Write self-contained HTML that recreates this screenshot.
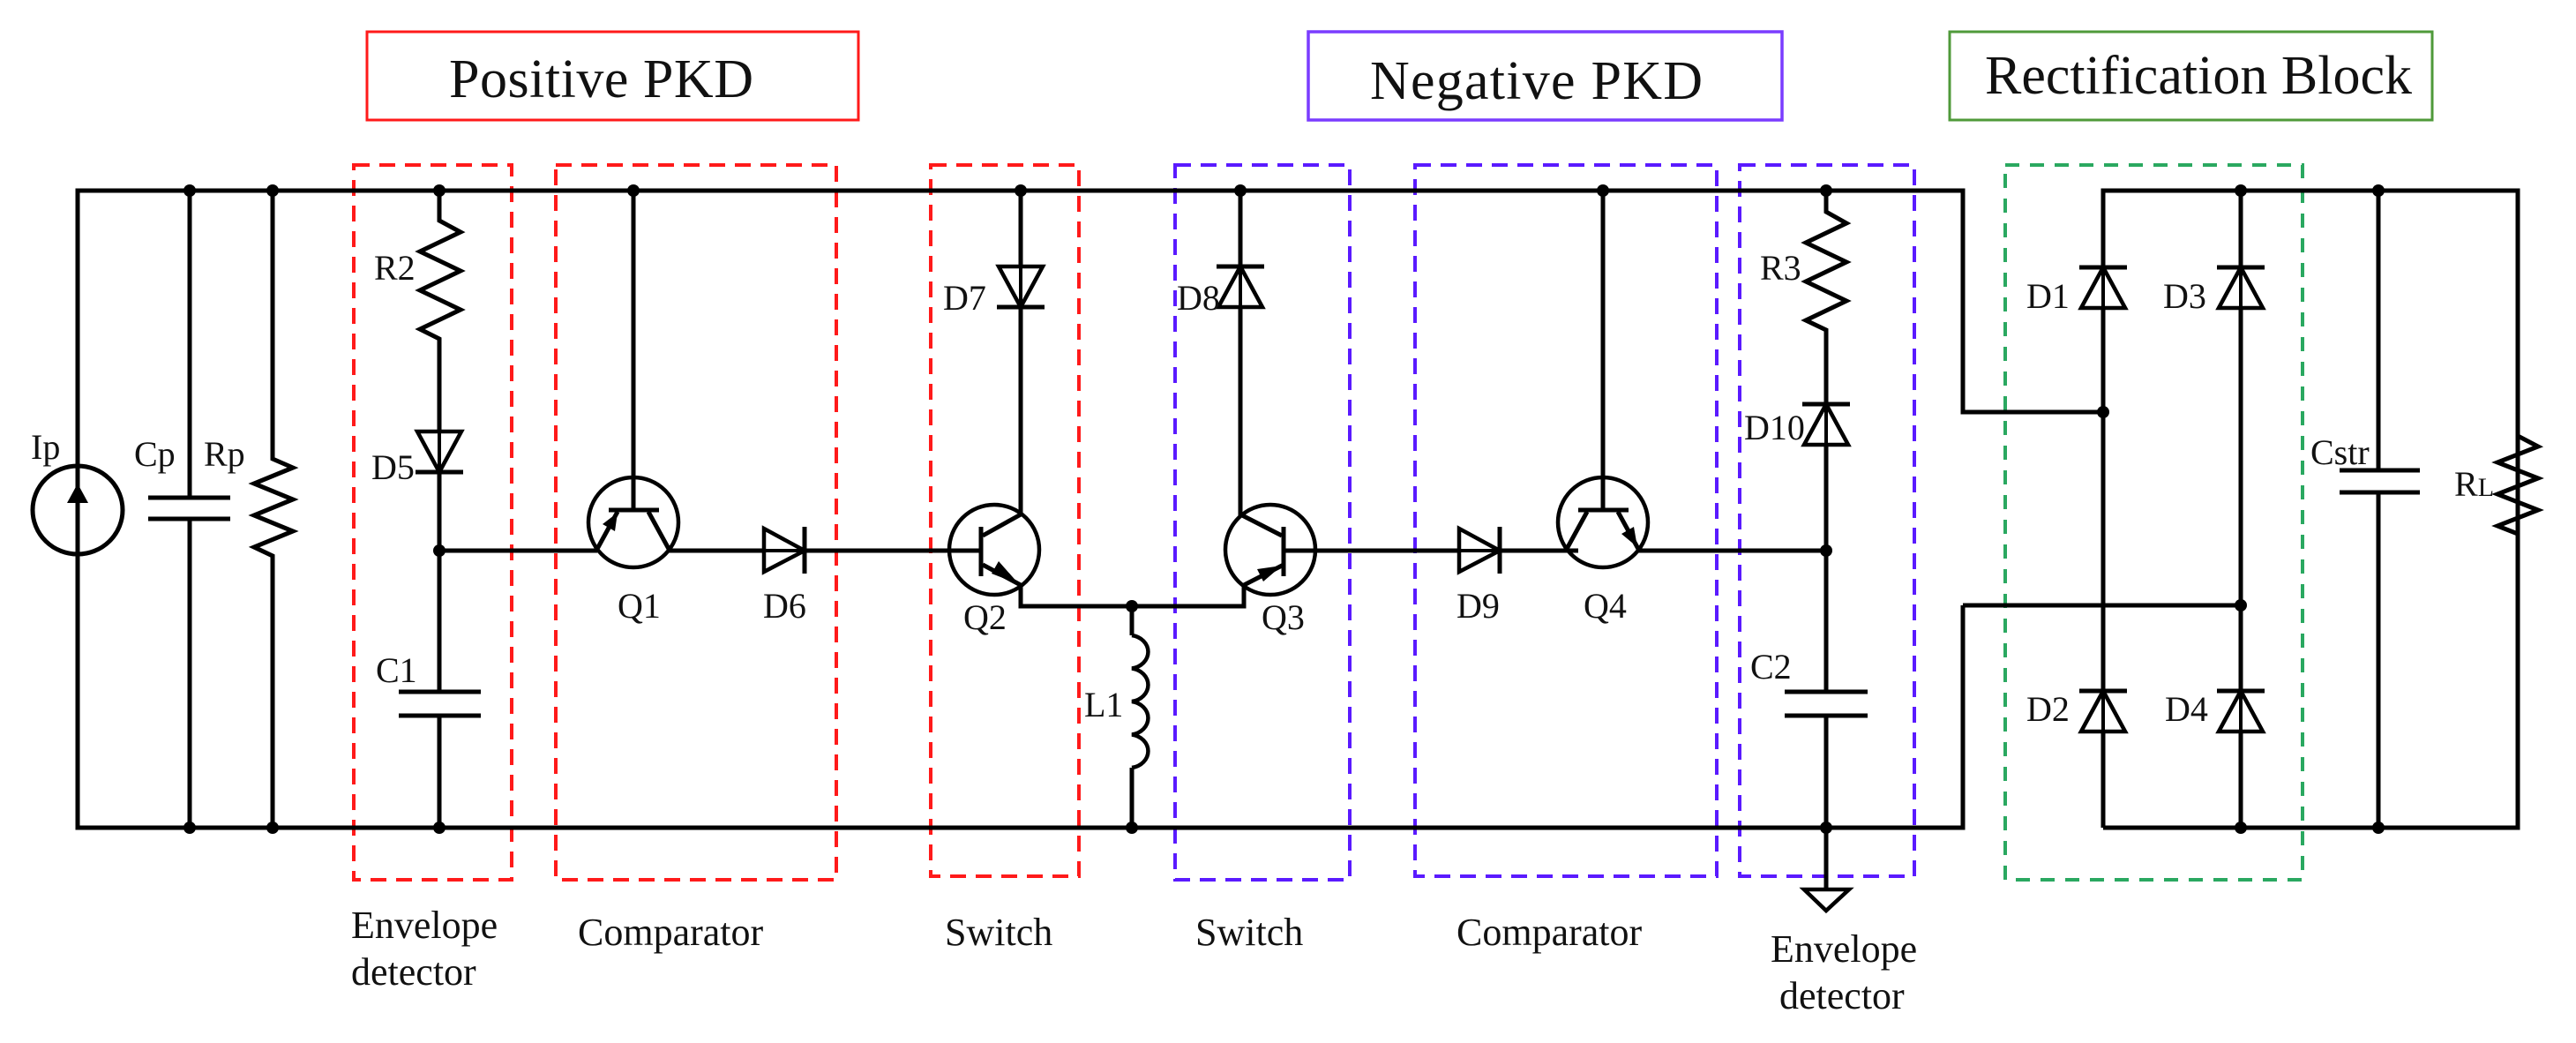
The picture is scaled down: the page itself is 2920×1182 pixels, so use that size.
<!DOCTYPE html>
<html><head><meta charset="utf-8"><style>html,body{margin:0;padding:0;background:#fff}svg{display:block}</style></head>
<body>
<svg width="2920" height="1182" viewBox="0 0 2920 1182" xmlns="http://www.w3.org/2000/svg" font-family="'Liberation Serif', serif" fill="none">
<!-- title boxes -->
<rect x="416" y="36" width="557" height="100" stroke="#ff1a1a" stroke-width="3"/>
<rect x="1483" y="36" width="537" height="100" stroke="#7a3cff" stroke-width="3.5"/>
<rect x="2210" y="36" width="547" height="100" stroke="#4f9a3a" stroke-width="3"/>
<g fill="#111" stroke="none" font-size="62">
<text x="509" y="110" textLength="345">Positive PKD</text>
<text x="1553" y="112" textLength="377">Negative PKD</text>
<text x="2250" y="106" textLength="484">Rectification Block</text>
</g>
<!-- dashed boxes -->
<g stroke-width="4" stroke-dasharray="18 11">
<rect x="401" y="187" width="179" height="810" stroke="#ff1a1a"/>
<rect x="630" y="187" width="318" height="810" stroke="#ff1a1a"/>
<rect x="1055" y="187" width="168" height="806" stroke="#ff1a1a"/>
<rect x="1332" y="187" width="198" height="810" stroke="#5a1aff"/>
<rect x="1604" y="187" width="342" height="806" stroke="#5a1aff"/>
<rect x="1972" y="187" width="198" height="806" stroke="#5a1aff"/>
<rect x="2273" y="187" width="337" height="810" stroke="#2aa860" stroke-dasharray="16 12"/>
</g>
<!-- wires -->
<g stroke="#000" stroke-width="5" stroke-linejoin="miter">
<polyline points="2225,686 2225,938 88,938 88,216 2225,216 2225,467 2384,467"/>
<line x1="2225" y1="686" x2="2540" y2="686"/>
<polyline points="2384,938 2384,216 2854,216 2854,938 2384,938"/>
<line x1="2540" y1="216" x2="2540" y2="938"/>
<line x1="2696" y1="216" x2="2696" y2="533"/>
<line x1="2696" y1="558" x2="2696" y2="938"/>
<line x1="215" y1="216" x2="215" y2="564"/><line x1="215" y1="588" x2="215" y2="938"/>
<line x1="168" y1="564" x2="261" y2="564"/><line x1="168" y1="588" x2="261" y2="588"/>
<polyline points="309,216 309,520 332,530 288,548 332,566 288,584 332,602 288,620 309,630 309,938"/>
<polyline points="498,216 498,250 522,263 476,285 522,307 476,329 522,351 476,373 498,384 498,784"/>
<line x1="498" y1="811" x2="498" y2="938"/>
<line x1="452" y1="784" x2="545" y2="784"/><line x1="452" y1="811" x2="545" y2="811"/>
<line x1="498" y1="624" x2="677" y2="624"/>
<line x1="718" y1="216" x2="718" y2="578"/>
<line x1="690" y1="578" x2="747" y2="578"/>
<line x1="700" y1="580" x2="677" y2="622"/>
<line x1="735" y1="580" x2="758" y2="622"/>
<line x1="758" y1="624" x2="1112" y2="624"/>
<line x1="1112" y1="597" x2="1112" y2="653"/>
<polyline points="1157,216 1157,583 1114,607"/>
<polyline points="1114,640 1157,663 1157,687 1410,687 1410,663 1455,640"/>
<line x1="1283" y1="687" x2="1283" y2="720"/>
<line x1="1283" y1="870" x2="1283" y2="938"/>
<line x1="1455" y1="597" x2="1455" y2="653"/>
<polyline points="1406,216 1406,583 1453,607"/>
<line x1="1455" y1="624" x2="1789" y2="624"/>
<line x1="1817" y1="216" x2="1817" y2="578"/>
<line x1="1789" y1="578" x2="1846" y2="578"/>
<line x1="1799" y1="580" x2="1776" y2="622"/>
<line x1="1834" y1="580" x2="1857" y2="622"/>
<line x1="1857" y1="624" x2="2070" y2="624"/>
<polyline points="2070,216 2070,240 2093,253 2047,275 2093,297 2047,319 2093,341 2047,363 2070,374 2070,784"/>
<line x1="2070" y1="811" x2="2070" y2="1007"/>
<line x1="2023" y1="784" x2="2117" y2="784"/><line x1="2023" y1="811" x2="2117" y2="811"/>
<line x1="2652" y1="533" x2="2743" y2="533"/><line x1="2652" y1="558" x2="2743" y2="558"/>
<polyline points="2854,938 2854,605 2831,596 2877,578 2831,560 2877,542 2831,524 2877,506 2854,494 2854,216"/>
<ellipse cx="88" cy="578" rx="51" ry="50"/>
<path d="M1283,720 a22,19 0 0 1 0,37.5 a22,19 0 0 1 0,37.5 a22,19 0 0 1 0,37.5 a22,19 0 0 1 0,37.5" stroke-width="4.5"/>
<polygon points="2045,1008 2096,1008 2070,1032" stroke-width="4.5"/>
<circle cx="718" cy="592" r="51" stroke-width="4.5"/>
<circle cx="1127" cy="623" r="51" stroke-width="4.5"/>
<circle cx="1440" cy="623" r="51" stroke-width="4.5"/>
<circle cx="1817" cy="592" r="51" stroke-width="4.5"/>
<line x1="1130" y1="348" x2="1184" y2="348"/>
<line x1="471" y1="535" x2="525" y2="535"/>
<line x1="912" y1="597" x2="912" y2="650"/>
<line x1="1700" y1="597" x2="1700" y2="650"/>
<line x1="1379" y1="302" x2="1433" y2="302"/>
<line x1="2043" y1="458" x2="2097" y2="458"/>
<line x1="2357" y1="303" x2="2411" y2="303"/><line x1="2513" y1="303" x2="2567" y2="303"/>
<line x1="2357" y1="783" x2="2411" y2="783"/><line x1="2513" y1="783" x2="2567" y2="783"/>
</g>
<g stroke="#000" stroke-width="4.5" fill="#fff">
<polygon points="1132,302 1182,302 1157,348"/>
<polygon points="473,489 523,489 498,535"/>
<polygon points="866,599 866,648 912,624"/>
<polygon points="1654,599 1654,648 1700,624"/>
<polygon points="1381,348 1431,348 1406,302"/>
<polygon points="2045,504 2095,504 2070,458"/>
<polygon points="2359,349 2409,349 2384,303"/>
<polygon points="2515,349 2565,349 2540,303"/>
<polygon points="2359,829 2409,829 2384,783"/>
<polygon points="2515,829 2565,829 2540,783"/>
</g>
<g stroke="#000" stroke-width="4"><line x1="1157" y1="302" x2="1157" y2="348"/><line x1="498" y1="489" x2="498" y2="535"/><line x1="866" y1="624" x2="912" y2="624"/><line x1="1654" y1="624" x2="1700" y2="624"/><line x1="1406" y1="302" x2="1406" y2="348"/><line x1="2070" y1="458" x2="2070" y2="504"/><line x1="2384" y1="303" x2="2384" y2="349"/><line x1="2540" y1="303" x2="2540" y2="349"/><line x1="2384" y1="783" x2="2384" y2="829"/><line x1="2540" y1="783" x2="2540" y2="829"/></g>
<g fill="#000" stroke="none">
<polygon points="88,548 76,570 100,570"/>
<rect x="86" y="560" width="4" height="66"/>
<polygon points="700,581 683,594 697,602"/>
<polygon points="1155,662 1132,636 1124,650"/>
<polygon points="1453,641 1425,645 1432,659"/>
<polygon points="1856,620 1852,597 1838,605"/>
</g>
<g fill="#000">
<circle cx="215" cy="216" r="7"/><circle cx="309" cy="216" r="7"/><circle cx="498" cy="216" r="7"/><circle cx="718" cy="216" r="7"/><circle cx="1157" cy="216" r="7"/><circle cx="1406" cy="216" r="7"/><circle cx="1817" cy="216" r="7"/><circle cx="2070" cy="216" r="7"/>
<circle cx="215" cy="938" r="7"/><circle cx="309" cy="938" r="7"/><circle cx="498" cy="938" r="7"/><circle cx="1283" cy="938" r="7"/><circle cx="2070" cy="938" r="7"/>
<circle cx="498" cy="624" r="7"/><circle cx="2070" cy="624" r="7"/><circle cx="1283" cy="687" r="7"/>
<circle cx="2384" cy="467" r="7"/><circle cx="2540" cy="686" r="7"/><circle cx="2540" cy="216" r="7"/><circle cx="2696" cy="216" r="7"/><circle cx="2540" cy="938" r="7"/><circle cx="2696" cy="938" r="7"/>
</g>
<g fill="#111" stroke="none" font-size="40">
<text x="35" y="520">Ip</text><text x="152" y="528">Cp</text><text x="231" y="528">Rp</text>
<text x="424" y="317">R2</text><text x="421" y="543">D5</text><text x="426" y="773">C1</text>
<text x="700" y="700">Q1</text><text x="865" y="700">D6</text>
<text x="1069" y="351">D7</text><text x="1092" y="713">Q2</text><text x="1229" y="812">L1</text>
<text x="1334" y="351">D8</text><text x="1430" y="713">Q3</text>
<text x="1651" y="700">D9</text><text x="1795" y="700">Q4</text>
<text x="1995" y="317">R3</text><text x="1977" y="498">D10</text><text x="1984" y="769">C2</text>
<text x="2297" y="349">D1</text><text x="2452" y="349">D3</text><text x="2297" y="817">D2</text><text x="2454" y="817">D4</text>
<text x="2619" y="526">Cstr</text>
<text x="2782" y="562">R<tspan font-size="30">L</tspan></text>
</g>
<g fill="#111" stroke="none" font-size="44">
<text x="398" y="1063">Envelope</text><text x="398" y="1116">detector</text>
<text x="655" y="1071">Comparator</text>
<text x="1071" y="1071">Switch</text>
<text x="1355" y="1071">Switch</text>
<text x="1651" y="1071">Comparator</text>
<text x="2007" y="1090">Envelope</text><text x="2017" y="1143">detector</text>
</g>
</svg>
</body></html>
